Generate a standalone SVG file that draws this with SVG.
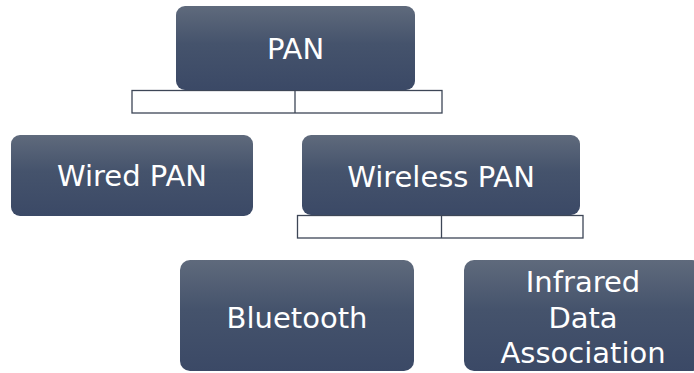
<svg xmlns="http://www.w3.org/2000/svg" width="694" height="373" viewBox="0 0 694 373">
<defs>
<linearGradient id="g" x1="0" y1="0" x2="0" y2="1">
<stop offset="0" stop-color="#5f6a7c"/>
<stop offset="0.45" stop-color="#45536c"/>
<stop offset="1" stop-color="#3b4966"/>
</linearGradient>
</defs>
<style>
.box{fill:url(#g);}
.t{fill:#ffffff;font-family:"DejaVu Sans","Liberation Sans",sans-serif;font-size:29px;text-anchor:middle;}
.c{fill:#ffffff;stroke:#3d4656;stroke-width:1.3;}
</style>
<rect width="694" height="373" fill="#ffffff"/>
<g id="connectors">
<rect class="c" x="132" y="90.5" width="310" height="22.5"/>
<line class="c" x1="295" y1="90.5" x2="295" y2="113"/>
<rect class="c" x="297.5" y="215.5" width="285.5" height="22.5"/>
<line class="c" x1="441.5" y1="215.5" x2="441.5" y2="238"/>
</g>
<g id="pan">
<rect class="box" x="176" y="6" width="239" height="84" rx="9"/>
<text class="t" x="295.5" y="59">PAN</text>
</g>
<g id="wired">
<rect class="box" x="11" y="135" width="242" height="81" rx="9"/>
<text class="t" x="132" y="185.5">Wired PAN</text>
</g>
<g id="wireless">
<rect class="box" x="302" y="135" width="278" height="80" rx="9"/>
<text class="t" x="441" y="186.5">Wireless PAN</text>
</g>
<g id="bluetooth">
<rect class="box" x="180" y="260" width="234" height="111" rx="10"/>
<text class="t" x="297" y="327.5">Bluetooth</text>
</g>
<g id="irda">
<rect class="box" x="464" y="260" width="238" height="111" rx="10"/>
<text class="t" x="583" y="291.5">Infrared</text>
<text class="t" x="583" y="328">Data</text>
<text class="t" x="583" y="363">Association</text>
</g>
</svg>
